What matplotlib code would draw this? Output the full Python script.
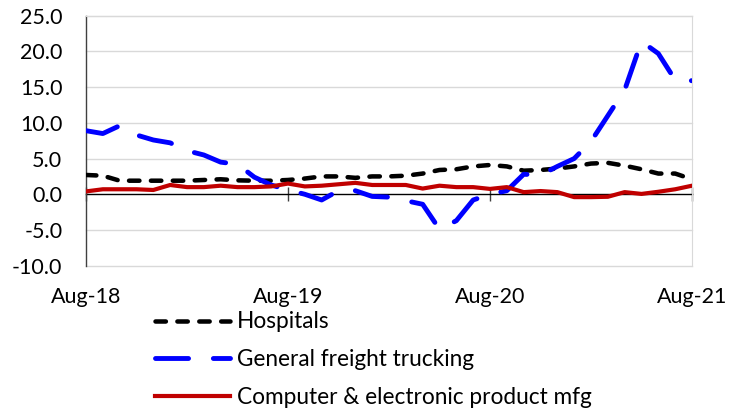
import numpy as np
import pandas as pd
import matplotlib
matplotlib.use("Agg")
import matplotlib.pyplot as plt

plt.rcParams['font.family'] = ['Lato', 'DejaVu Sans']
plt.rcParams['axes.unicode_minus'] = False

months = list(pd.date_range('2018-08-01', periods=37, freq='MS').strftime('%b-%y'))
tick_labels = ['Aug-18', 'Aug-19', 'Aug-20', 'Aug-21']

hospitals = [2.7, 2.6, 1.9, 1.9, 1.9, 1.9, 1.9, 2.0, 2.1, 1.95, 1.9, 1.9, 2.0,
             2.2, 2.5, 2.5, 2.3, 2.5, 2.5, 2.6, 2.9, 3.4, 3.5, 3.9, 4.1,
             3.9, 3.3, 3.4, 3.6, 3.9, 4.3, 4.4, 4.0, 3.5, 2.9, 2.9, 2.1]
trucking = [8.9, 8.5, 9.6, 8.3, 7.6, 7.2, 6.1, 5.5, 4.5, 4.2, 2.4, 1.3, 0.6,
            0.0, -0.8, 0.5, 0.5, -0.3, -0.4, -0.9, -1.4, -4.9, -3.7, -0.8, 0.0,
            0.5, 2.8, 2.7, 3.9, 5.0, 7.4, 11.0, 14.6, 21.4, 19.7, 16.0, 15.9]
computer = [0.4, 0.7, 0.7, 0.7, 0.6, 1.3, 1.0, 1.0, 1.2, 1.0, 1.0, 1.1, 1.5,
            1.1, 1.2, 1.4, 1.6, 1.3, 1.3, 1.3, 0.8, 1.2, 1.0, 1.0, 0.75,
            1.0, 0.3, 0.45, 0.3, -0.4, -0.4, -0.35, 0.3, 0.05, 0.35, 0.7, 1.2]
series_names = ['Hospitals', 'General freight trucking', 'Computer & electronic product mfg']

x = np.arange(len(months))
tick_pos = [months.index(t) for t in tick_labels]

fig = plt.figure(figsize=(7.41, 4.13), dpi=100)
ax = fig.add_axes([86/741, 1-265.7/413, (692-86)/741, 250/413])

grid_c = '#d9d9d9'
for yv in [-10, -5, 5, 10, 15, 20, 25]:
    ax.axhline(yv, color=grid_c, lw=1.0, zorder=0, clip_on=False)

l1, = ax.plot(x, hospitals, color='black', lw=3.25, linestyle=(0, (2.3, 2.55)),
              dash_capstyle='round', solid_joinstyle='round', zorder=3, label=series_names[0])
l2, = ax.plot(x, trucking, color='#0000FF', lw=3.5, linestyle=(0, (6.8, 5.1)),
              dash_capstyle='round', solid_joinstyle='round', zorder=4, label=series_names[1])
l3, = ax.plot(x, computer, color='#C00000', lw=3.0, solid_joinstyle='round',
              zorder=5, label=series_names[2])

ax.set_xlim(0, len(months) - 1)
ax.set_ylim(-10, 25)
ax.set_yticks(np.arange(-10, 26, 5))
ax.set_yticklabels([f'{v:.1f}' for v in np.arange(-10, 26, 5)])
ax.tick_params(axis='y', length=0, pad=17, labelsize=15.5)

ax.spines['bottom'].set_position(('data', 0))
ax.spines['bottom'].set_color('black')
ax.spines['bottom'].set_linewidth(1.0)
ax.spines['bottom'].set_zorder(2)
ax.spines['left'].set_color('#404040')
ax.spines['left'].set_linewidth(1.0)
ax.spines['top'].set_color(grid_c)
ax.spines['right'].set_color(grid_c)
ax.set_xticks(tick_pos)
ax.tick_params(axis='x', direction='inout', length=10, width=1.0, color='#404040',
               labelbottom=False)

sec = ax.secondary_xaxis('bottom')
sec.set_xticks(tick_pos)
sec.set_xticklabels(tick_labels)
sec.tick_params(length=0, pad=15, labelsize=15.5)
sec.spines['bottom'].set_visible(False)

leg = fig.legend(handles=[l1, l2, l3], loc='upper left', bbox_to_anchor=(155/741, 1-311.5/413),
                 frameon=False, fontsize=16.3, handlelength=3.3, handletextpad=0.31,
                 labelspacing=0.74, borderpad=0, borderaxespad=0)

fig.savefig('out.png', dpi=100)
